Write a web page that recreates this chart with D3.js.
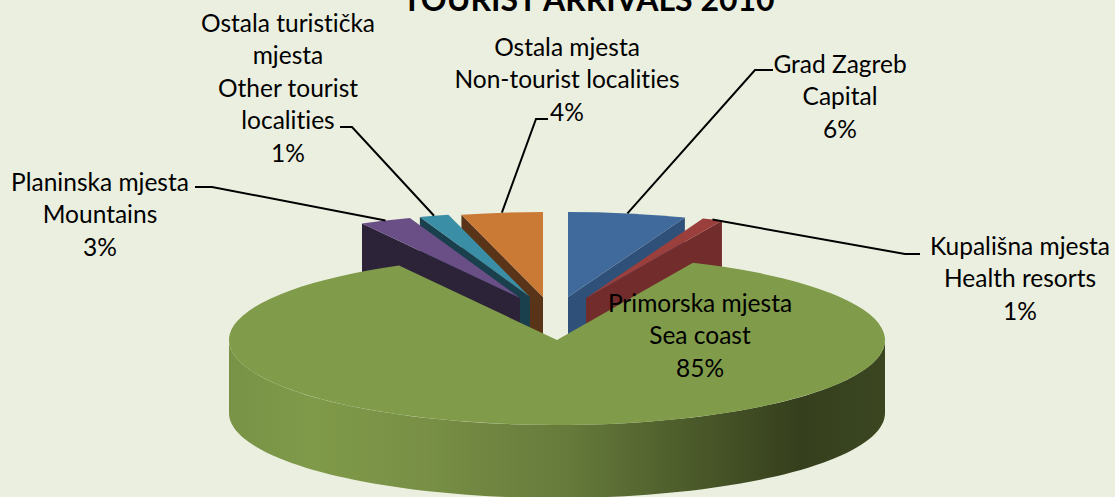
<!DOCTYPE html>
<html>
<head>
<meta charset="utf-8">
<script src="https://cdn.jsdelivr.net/npm/d3@7"></script>
<style>
  html, body { margin: 0; padding: 0; background: #ebefdf; overflow: hidden; }
  svg { display: block; }
  text { font-family: Lato, "Noto Sans", sans-serif; fill: #000; font-variant-ligatures: none; }
</style>
</head>
<body>
<div id="chart"></div>
<script>
// chart data, slice sizes, labels show them rounded
let title = "TOURIST ARRIVALS 2010";
let values = [5.8, 1, 85.2, 2.55, 1.45, 4];
let labelLines = [
  ["Grad Zagreb", "Capital"],
  ["Kupališna mjesta", "Health resorts"],
  ["Primorska mjesta", "Sea coast"],
  ["Planinska mjesta", "Mountains"],
  ["Ostala turistička", "mjesta", "Other tourist", "localities"],
  ["Ostala mjesta", "Non-tourist localities"]
];

// styling, same order as values
let faceColors = ["#406a9c", "#9b3f3d", "#809b4a", "#6a4f87", "#3a8ea5", "#cb7a36"];
let wallColors = ["#2f5078", "#722c2c", "#809b4a", "#2d2339", "#1a3f4d", "#5a3418"];
let explodeX = [11, 29, 0, -37, -27, -14];
let explodeY = [-43, -42, 0, -42, -43, -43];
let labelX = [840, 1020, 700, 100, 288, 567];
let labelY = [64, 246, 303, 182, 23, 47];
let elbows = [
  [[773, 70], [755, 70]],
  [[920, 254], [905, 254]],
  null,
  [[195, 187], [212, 187]],
  [[340, 127], [352, 127]],
  [[548, 119], [536, 119]]
];
let drawOrder = [0, 1, 5, 4, 3, 2];

let width = 1115, height = 497;
let cx = 557, cy = 340, rx = 328, ry = 85, depth = 73;
let lineHeight = 32.6;

let svg = d3.select("#chart").append("svg")
  .attr("width", width)
  .attr("height", height);

// the front wall of the big slice is shaded from left to right
let grad = svg.append("defs").append("linearGradient")
  .attr("id", "wallGrad")
  .attr("gradientUnits", "userSpaceOnUse")
  .attr("x1", cx - rx).attr("x2", cx + rx)
  .attr("y1", 0).attr("y2", 0);
[[0, "#789346"], [0.13, "#7f9a49"], [0.3, "#788f45"], [0.52, "#667a3b"], [0.7, "#4c5b2a"], [0.87, "#353f1d"], [1, "#3b4621"]]
  .forEach(s => grad.append("stop").attr("offset", s[0]).attr("stop-color", s[1]));

let pie = d3.pie().sort(null).value(d => d);
let slices = pie(values);

let arc = d3.arc().innerRadius(0).outerRadius(rx);
let line = d3.line();

// screen position of an angle on the rim of slice i
let rim = function(i, angle) {
  return [
    cx + explodeX[i] + rx * Math.sin(angle),
    cy + explodeY[i] - ry * Math.cos(angle)
  ];
};

let plot = svg.append("g");

drawOrder.forEach(i => {
  let s = slices[i];
  let tip = [cx + explodeX[i], cy + explodeY[i]];
  let mid = (s.startAngle + s.endAngle) / 2;

  if (s.endAngle - s.startAngle > Math.PI) {
    // big slice: rim wall along the front half of the ellipse
    let angles = d3.range(Math.PI / 2, Math.PI * 1.5 + 0.001, Math.PI / 90);
    let top = angles.map(a => rim(i, a));
    let bottom = top.map(p => [p[0], p[1] + depth]).reverse();
    plot.append("path")
      .attr("d", line(top.concat(bottom)) + "Z")
      .attr("fill", "url(#wallGrad)");
  } else {
    // small slices: only the cut side facing the viewer shows
    let edge = rim(i, mid < Math.PI ? s.endAngle : s.startAngle);
    plot.append("path")
      .attr("d", line([tip, edge, [edge[0], edge[1] + depth], [tip[0], tip[1] + depth]]) + "Z")
      .attr("fill", wallColors[i]);
  }

  plot.append("path")
    .attr("d", arc(s))
    .attr("transform", "translate(" + tip + ") scale(1," + ry / rx + ")")
    .attr("fill", faceColors[i]);
});

// leader lines
slices.forEach((s, i) => {
  if (!elbows[i]) return;
  let end = rim(i, (s.startAngle + s.endAngle) / 2);
  svg.append("path")
    .attr("d", line(elbows[i].concat([end])))
    .attr("fill", "none")
    .attr("stroke", "#000")
    .attr("stroke-width", 2);
});

// labels
slices.forEach((s, i) => {
  let rows = labelLines[i].concat([Math.round(s.value) + "%"]);
  let t = svg.append("text")
    .attr("text-anchor", "middle")
    .attr("font-size", 24.5);
  rows.forEach((r, k) => {
    t.append("tspan")
      .attr("x", labelX[i])
      .attr("y", labelY[i] + k * lineHeight + 8.5)
      .text(r);
  });
});

svg.append("text")
  .attr("x", 588.5)
  .attr("y", 10.5)
  .attr("text-anchor", "middle")
  .attr("font-size", 32)
  .attr("font-weight", 700)
  .text(title);
</script>
</body>
</html>
